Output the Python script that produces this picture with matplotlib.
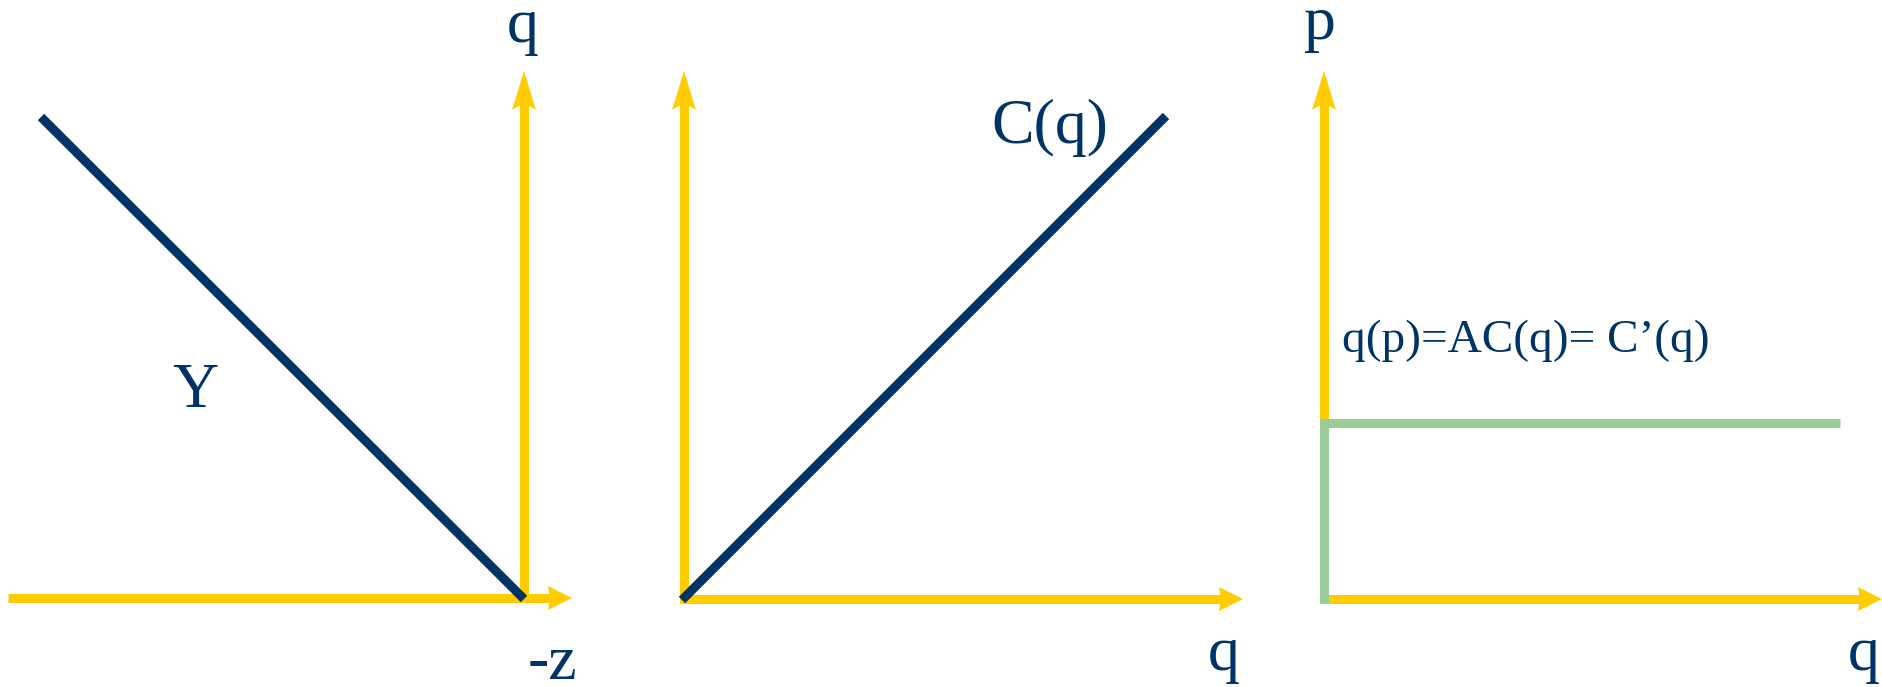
import matplotlib
matplotlib.use("Agg")
import matplotlib.pyplot as plt

# canvas in pixel units (x right, y down)
W, H = 1883, 687

YELLOW = "#FFCC00"
NAVY = "#003366"
GREEN = "#99CC99"

# axis arrows: (x0, y0, x1, y1) tail -> tip
axis_arrows = [
    (8, 598, 572, 598),
    (524, 602, 524, 71),
    (684, 603, 684, 71),
    (680, 599, 1243, 599),
    (1324, 598, 1324, 71),
    (1320, 599, 1882, 599),
]

# dark navy lines: Y (panel 1) and C(q) (panel 2)
y_line_x = [41, 524]
y_line_y = [117, 599]
c_line_x = [682, 1166]
c_line_y = [600, 116]

# green p = AC(q) step
green_x = [1324, 1324, 1840]
green_y = [603, 423, 423]

# labels: text, x, y(baseline), size, ha
labels = [
    ("q", 523, 42, 46, "center"),
    ("-z", 552, 679, 46, "center"),
    ("Y", 195, 407, 46, "center"),
    ("C(q)", 1050, 143, 46, "center"),
    ("q", 1224, 670, 46, "center"),
    ("p", 1320, 39, 46, "center"),
    ("q", 1864, 670, 46, "center"),
    ("q(p)=AC(q)= C\u2019(q)", 1342, 352, 34, "left"),
]

LW = 9 * 0.72  # ~9 px in points


def draw_arrow(ax, x0, y0, x1, y1):
    vertical = x0 == x1
    if vertical:
        head_len, half_w, notch = 39, 12, 7
    else:
        head_len, half_w, notch = 24, 12, 2
    dx, dy = x1 - x0, y1 - y0
    L = (dx ** 2 + dy ** 2) ** 0.5
    ux, uy = dx / L, dy / L
    px, py = -uy, ux
    bx, by = x1 - ux * head_len, y1 - uy * head_len
    nx, ny = bx + ux * notch, by + uy * notch
    ax.plot([x0, nx + ux * 2], [y0, ny + uy * 2], color=YELLOW, lw=LW,
            solid_capstyle="butt", zorder=2)
    ax.fill([x1, bx + px * half_w, nx, bx - px * half_w],
            [y1, by + py * half_w, ny, by - py * half_w],
            color=YELLOW, lw=0, zorder=2)


fig = plt.figure(figsize=(W / 100, H / 100), dpi=100)
ax = fig.add_axes([0, 0, 1, 1])
ax.set_xlim(0, W)
ax.set_ylim(H, 0)
ax.axis("off")

for a in axis_arrows:
    draw_arrow(ax, *a)

ax.plot(y_line_x, y_line_y, color=NAVY, lw=LW, solid_capstyle="butt", zorder=4)
ax.plot(c_line_x, c_line_y, color=NAVY, lw=LW, solid_capstyle="butt", zorder=4)
ax.plot(green_x, green_y, color=GREEN, lw=LW, solid_capstyle="butt",
        solid_joinstyle="miter", zorder=3)

for txt, x, y, size, ha in labels:
    ax.text(x, y, txt, fontsize=size, ha=ha, va="baseline", color=NAVY,
            family=["Liberation Serif", "DejaVu Serif"])

fig.savefig("out.png", dpi=100)
